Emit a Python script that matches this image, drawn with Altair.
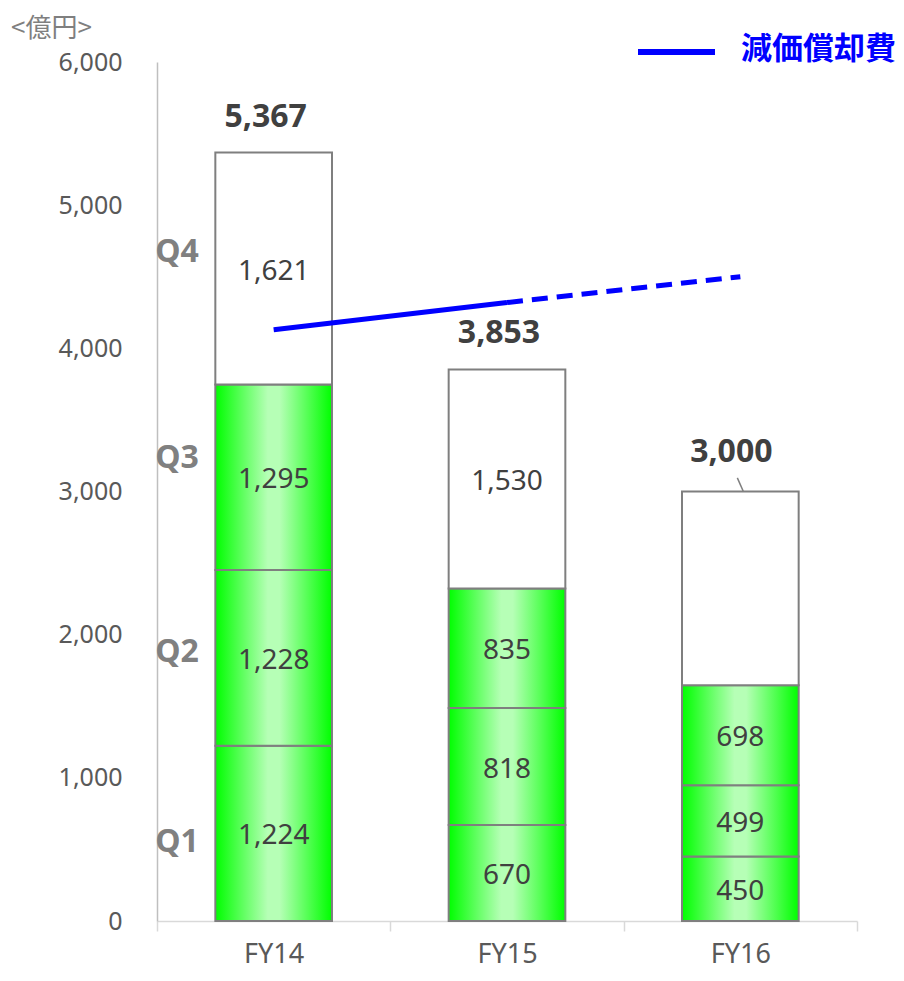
import altair as alt
import pandas as pd

# ---- data ----
cats = ["FY14", "FY15", "FY16"]
q1 = [1224, 670, 450]
q2 = [1228, 818, 499]
q3 = [1295, 835, 698]
q4 = [1621, 1530, None]          # FY16 remainder shown without label
totals = [5367, 3853, 3000]
depreciation = [4130, 4320, 4500]
q_names = ["Q1", "Q2", "Q3", "Q4"]
q_label_values = [552, 1878, 3233, 4672]
unit_text = "<億円>"
legend_text = "減価償却費"

FONT = "Noto Sans"
JFONT = "Noto Sans CJK JP"

# ---- tables ----
rows = []
for i, c in enumerate(cats):
    s = 0
    for name, v in zip(["Q1", "Q2", "Q3"], [q1[i], q2[i], q3[i]]):
        rows.append(dict(cat=c, seg=name, start=s, end=s + v, mid=s + v / 2,
                         label=f"{v:,}", kind="green"))
        s += v
    lab = "" if q4[i] is None else f"{q4[i]:,}"
    rows.append(dict(cat=c, seg="Q4", start=s, end=totals[i], mid=(s + totals[i]) / 2,
                     label=lab, kind="white"))
seg_df = pd.DataFrame(rows)
tot_df = pd.DataFrame({"cat": cats, "total": totals,
                       "label": [f"{t:,}" for t in totals]})
dep_df = pd.DataFrame({"cat": cats, "dep": depreciation})
q_df = pd.DataFrame({"q": q_names, "v": q_label_values})

green_grad = alt.LinearGradient(
    gradient="linear", x1=0, x2=1, y1=0, y2=0,
    stops=[alt.GradientStop(color="#00ff00", offset=0),
           alt.GradientStop(color="#b6ffb6", offset=0.45),
           alt.GradientStop(color="#b6ffb6", offset=0.55),
           alt.GradientStop(color="#00ff00", offset=1)])

xscale = alt.Scale(domain=cats, paddingInner=0, paddingOuter=0)
yscale = alt.Scale(domain=[0, 6000], nice=False)

xaxis = alt.Axis(labelAngle=0, tickBand="extent", tickSize=10,
                 tickColor="#d9d9d9", tickWidth=1.5,
                 domainColor="#d9d9d9", domainWidth=1.5,
                 labelFont=FONT, labelFontSize=27, labelColor="#595959",
                 labelPadding=10, grid=False)
yaxis = alt.Axis(values=[0, 1000, 2000, 3000, 4000, 5000, 6000], format=",.0f",
                 ticks=False, grid=False, domainColor="#bfbfbf", domainWidth=1.5,
                 labelFont=FONT, labelFontSize=25, labelColor="#595959",
                 labelPadding=35)

x_enc = alt.X("cat:N", scale=xscale, title=None, axis=xaxis)
BAR_W = alt.RelativeBandSize(0.5)


def yq(field):
    return alt.Y(field, scale=yscale, title=None, axis=yaxis)


green = alt.Chart(seg_df).transform_filter("datum.kind == 'green'").mark_bar(
    fill=green_grad, stroke="#7f7f7f", strokeWidth=2, width=BAR_W
).encode(x=x_enc, y=yq("start:Q"), y2="end:Q")

white = alt.Chart(seg_df).transform_filter("datum.kind == 'white'").mark_bar(
    fill="#ffffff", stroke="#7f7f7f", strokeWidth=2, width=BAR_W
).encode(x=x_enc, y=yq("start:Q"), y2="end:Q")

seg_text = alt.Chart(seg_df).mark_text(
    font=FONT, fontSize=28, color="#404040", dy=3
).encode(x=x_enc, y=yq("mid:Q"), text="label:N")

tot_text_a = alt.Chart(tot_df).transform_filter("datum.cat != 'FY16'").mark_text(
    font=FONT, fontSize=32, fontWeight="bold", color="#404040", baseline="bottom",
    dy=-19, dx=-8
).encode(x=x_enc, y=yq("total:Q"), text="label:N")

tot_text_b = alt.Chart(tot_df).transform_filter("datum.cat == 'FY16'").mark_text(
    font=FONT, fontSize=32, fontWeight="bold", color="#404040", baseline="bottom",
    dy=-23, dx=-9
).encode(x=x_enc, y=yq("total:Q"), text="label:N")

leader = alt.Chart(tot_df).transform_filter("datum.cat == 'FY16'").transform_calculate(
    top="datum.total + 95"
).mark_rule(color="#7f7f7f", strokeWidth=1.5, xOffset=3, x2Offset=-3).encode(
    x=x_enc, x2=alt.X2("cat:N"), y=yq("total:Q"), y2="top:Q")

line_solid = alt.Chart(dep_df).transform_filter("datum.cat != 'FY16'").mark_line(
    color="#0000ff", strokeWidth=5
).encode(x=x_enc, y=yq("dep:Q"))

line_dash = alt.Chart(dep_df).transform_filter("datum.cat != 'FY14'").mark_line(
    color="#0000ff", strokeWidth=5, strokeDash=[16, 9]
).encode(x=x_enc, y=yq("dep:Q"))

q_text = alt.Chart(q_df).mark_text(
    font=FONT, fontSize=32, fontWeight="bold", color="#808080"
).encode(x=alt.value(20), y=yq("v:Q"), text="q:N")

unit = alt.Chart(pd.DataFrame({"t": [unit_text]})).mark_text(
    font=JFONT, fontSize=26, color="#7f7f7f", align="left"
).encode(x=alt.value(-146), y=alt.value(-33), text="t:N")

legend_line = alt.Chart(pd.DataFrame({"t": [legend_text]})).mark_rule(
    color="#0000ff", strokeWidth=6
).encode(x=alt.value(481), x2=alt.value(558), y=alt.value(-10))

legend_lbl = alt.Chart(pd.DataFrame({"t": [legend_text]})).mark_text(
    font=JFONT, fontSize=31, fontWeight="bold", color="#0000ff", align="right"
).encode(x=alt.value(739), y=alt.value(-12), text="t:N")

chart = alt.layer(
    green, white, seg_text, tot_text_a, tot_text_b, leader,
    line_solid, line_dash, q_text, unit, legend_line, legend_lbl
).properties(
    width=700, height=859,
    autosize=alt.AutoSizeParams(type="none"),
    padding={"left": 149, "top": 54, "right": 39, "bottom": 49},
).configure_view(stroke=None)

chart.save("out.html", embed_options={"renderer": "svg", "actions": False})
